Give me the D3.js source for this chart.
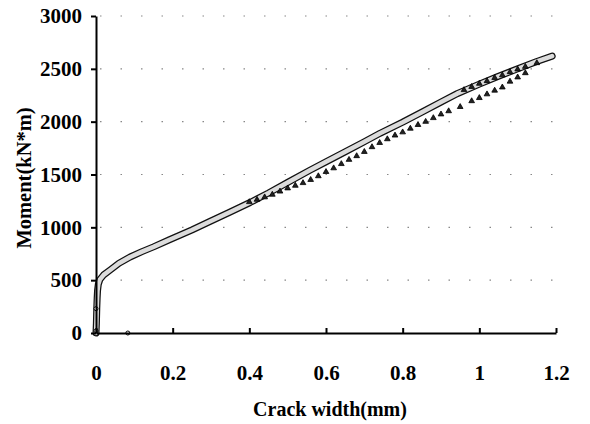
<!DOCTYPE html>
<html>
  <head>
    <meta charset="utf-8" />
    <title>Moment vs crack width</title>
    <script src="https://d3js.org/d3.v7.min.js"></script>
    <style>
      body {
        margin: 0;
        background-color: #fff;
      }
      text {
        font-family: "Liberation Serif", "Times New Roman", serif;
        font-weight: bold;
      }
    </style>
  </head>
  <body>
    <svg id="chart">
      <g id="grid"></g>
      <g id="shapes"></g>
      <g id="x"></g>
      <g id="y"></g>
    </svg>

    <script>

      // measured curve (crack width mm, moment kN*m)
      var curveWidth = [0, 0.001, 0.002, 0.003, 0.004, 0.006, 0.01, 0.02, 0.037, 0.06, 0.089, 0.12, 0.15, 0.193, 0.25, 0.297, 0.35, 0.402, 0.45, 0.5, 0.558, 0.6, 0.65, 0.7, 0.741, 0.8, 0.85, 0.9, 0.942, 1.0, 1.05, 1.1, 1.15, 1.19];
      var curveMoment = [0, 90, 230, 330, 400, 460, 505, 550, 596, 660, 719, 770, 815, 885, 975, 1055, 1145, 1235, 1325, 1425, 1540, 1620, 1715, 1810, 1890, 1995, 2090, 2185, 2265, 2355, 2430, 2500, 2570, 2620];

      // triangle markers, lower row
      var triWidth = [0.40, 0.42, 0.44, 0.46, 0.48, 0.50, 0.52, 0.54, 0.56, 0.58, 0.60, 0.62, 0.64, 0.66, 0.68, 0.70, 0.72, 0.74, 0.76, 0.78, 0.80, 0.82, 0.84, 0.86, 0.88, 0.90, 0.92, 0.95, 0.98, 1.0, 1.02, 1.04, 1.06, 1.08, 1.10, 1.12];
      var triMoment = [1240, 1262, 1285, 1310, 1340, 1370, 1395, 1420, 1450, 1485, 1525, 1560, 1600, 1640, 1675, 1715, 1760, 1800, 1835, 1870, 1900, 1935, 1970, 2000, 2035, 2070, 2100, 2140, 2195, 2225, 2260, 2295, 2325, 2380, 2420, 2460];

      // triangle markers, upper row near the end
      var tri2Width = [0.96, 0.98, 1.0, 1.02, 1.04, 1.06, 1.08, 1.1, 1.12, 1.15];
      var tri2Moment = [2300, 2330, 2360, 2385, 2415, 2440, 2470, 2495, 2520, 2555];

      // small points near the origin
      var dotWidth = [0, 0, 0.083];
      var dotMoment = [20, 230, 0];

      var xTicks = [0, 0.2, 0.4, 0.6, 0.8, 1, 1.2];
      var yTicks = [0, 500, 1000, 1500, 2000, 2500, 3000];

      var width = 590;
      var height = 424;

      var svg = d3.select("#chart")
        .attr("width", width)
        .attr("height", height);

      var x = d3.scaleLinear()
        .domain([0, 1.2])
        .range([96, 556]);

      var y = d3.scaleLinear()
        .domain([0, 3000])
        .range([333, 16]);

      // dotted gridlines
      svg.select("#grid").selectAll("line")
        .data(yTicks.slice(1))
        .enter().append("line")
        .attr("x1", x(0) + 4)
        .attr("x2", x(1.2))
        .attr("y1", function(d) { return y(d); })
        .attr("y2", function(d) { return y(d); })
        .attr("stroke", "#888")
        .attr("stroke-width", 1.2)
        .attr("stroke-dasharray", "1.5,19");

      var curve = curveWidth.map(function(d, i) {
        return { w: d, m: curveMoment[i] };
      });

      var line = d3.line()
        .x(function(d) { return x(d.w); })
        .y(function(d) { return y(d.m); });

      var shapes = svg.select("#shapes");

      // outlined gray band
      shapes.append("path")
        .datum(curve)
        .attr("d", line)
        .attr("fill", "none")
        .attr("stroke", "#111")
        .attr("stroke-width", 7)
        .attr("stroke-linecap", "round")
        .attr("stroke-linejoin", "round");

      shapes.append("path")
        .datum(curve)
        .attr("d", line)
        .attr("fill", "none")
        .attr("stroke", "#dcdcdc")
        .attr("stroke-width", 4.5)
        .attr("stroke-linecap", "round")
        .attr("stroke-linejoin", "round");

      var tri = d3.symbol().type(d3.symbolTriangle).size(14);

      function drawTriangles(ws, ms) {
        shapes.append("g").selectAll("path")
          .data(ws)
          .enter().append("path")
          .attr("d", tri)
          .attr("transform", function(d, i) {
            return "translate(" + x(d) + "," + y(ms[i]) + ")";
          })
          .attr("fill", "#222")
          .attr("stroke", "#000")
          .attr("stroke-width", 0.8);
      }

      drawTriangles(triWidth, triMoment);
      drawTriangles(tri2Width, tri2Moment);

      shapes.append("g").selectAll("circle")
        .data(dotWidth)
        .enter().append("circle")
        .attr("cx", function(d) { return x(d); })
        .attr("cy", function(d, i) { return y(dotMoment[i]); })
        .attr("r", 2)
        .attr("fill", "#fff")
        .attr("stroke", "#000")
        .attr("stroke-width", 1);

      // axes
      var xAxis = d3.axisBottom(x)
        .tickValues(xTicks)
        .tickFormat(d3.format(""))
        .tickSize(-5)
        .tickSizeOuter(0)
        .tickPadding(32);

      svg.select("#x")
        .attr("transform", "translate(0," + y(0) + ")")
        .call(xAxis);

      var yAxis = d3.axisLeft(y)
        .tickValues(yTicks)
        .tickFormat(d3.format(""))
        .tickSize(5)
        .tickSizeOuter(0)
        .tickPadding(9);

      svg.select("#y")
        .attr("transform", "translate(" + x(0) + ",0)")
        .call(yAxis);

      svg.selectAll("#x path, #y path, #x line, #y line")
        .attr("stroke", "#000")
        .attr("stroke-width", 2);

      svg.selectAll("#x text, #y text")
        .attr("fill", "#000")
        .attr("font-size", "21px")
        .attr("font-family", "'Liberation Serif', serif")
        .attr("font-weight", "bold");

      svg.append("text")
        .attr("x", 330)
        .attr("y", 416)
        .attr("text-anchor", "middle")
        .attr("font-size", "20px")
        .text("Crack width(mm)");

      svg.append("text")
        .attr("transform", "translate(31,178) rotate(-90)")
        .attr("text-anchor", "middle")
        .attr("font-size", "20.5px")
        .text("Moment(kN*m)");

    </script>
  </body>
</html>
